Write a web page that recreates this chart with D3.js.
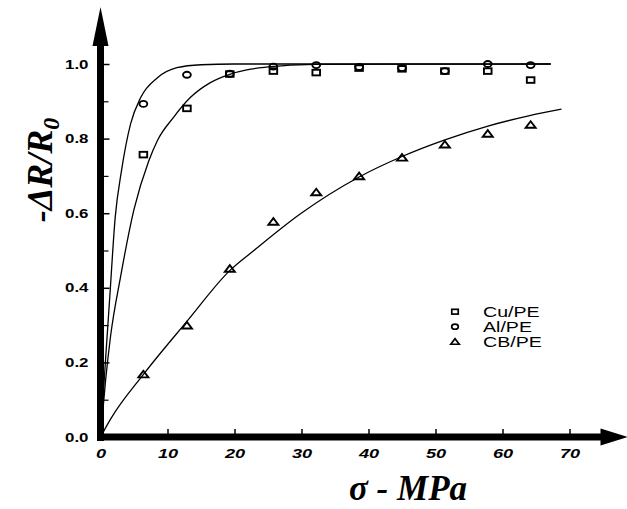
<!DOCTYPE html>
<html>
<head>
<meta charset="utf-8">
<script src="https://cdn.jsdelivr.net/npm/d3@7"></script>
<style>
  body { margin: 0; background: #fff; }
  svg { display: block; }
</style>
</head>
<body>
<div id="chart"></div>
<script>
// Measured stress values (MPa) for the three composites
const stress = [6.4, 12.9, 19.3, 25.8, 32.2, 38.6, 45.0, 51.4, 57.8, 64.2];
const cuPE = [0.757, 0.881, 0.973, 0.981, 0.977, 0.989, 0.987, 0.981, 0.981, 0.957];
const alPE = [0.893, 0.971, 0.974, 0.993, 0.997, 0.992, 0.989, 0.981, 1.0, 0.997];
const cbPE = [0.168, 0.299, 0.451, 0.577, 0.656, 0.699, 0.749, 0.784, 0.813, 0.837];

// Fitted curves
const cuFitX = [0, 0.75, 1.5, 3, 5, 7.2, 8.5, 10.9, 13.4, 16.4, 19.4, 22.4, 27, 32, 67.2];
const cuFitY = [0, 0.15, 0.27, 0.43, 0.61, 0.74, 0.795, 0.857, 0.91, 0.95, 0.973, 0.986, 0.995, 0.999, 1.0];
const alFitX = [0, 0.8, 1.4, 2.2, 3.1, 4.5, 6, 8.5, 11.4, 15, 20, 67.2];
const alFitY = [0, 0.22, 0.38, 0.59, 0.71, 0.84, 0.91, 0.963, 0.99, 0.998, 1.0, 1.0];
const cbFitX = [0, 1.5, 6.5, 12.9, 19.4, 22.9, 29.9, 38.6, 45, 51.3, 57.7, 63.9, 68.8];
const cbFitY = [0, 0.048, 0.17, 0.31, 0.448, 0.50, 0.599, 0.697, 0.752, 0.796, 0.833, 0.861, 0.879];

const xTicks = [0, 10, 20, 30, 40, 50, 60, 70];
const yTicks = [0, 0.2, 0.4, 0.6, 0.8, 1.0];
const yMinorTicks = [0.1, 0.3, 0.5, 0.7, 0.9];
const seriesNames = ["Cu/PE", "Al/PE", "CB/PE"];

const width = 627, height = 509;

const svg = d3.select("#chart")
    .append("svg")
    .attr("width", width)
    .attr("height", height);

// Scales
const x = d3.scaleLinear().domain([0, 70]).range([100.5, 569.5]);
const y = d3.scaleLinear().domain([0, 1]).range([437, 64]);

const labelFont = "'Liberation Sans', Arial, sans-serif";
const titleFont = "'Liberation Serif', 'Times New Roman', serif";

// Y axis ticks (inside, to the right) and labels
const yAxis = svg.append("g")
    .attr("transform", `translate(${x(0)},0)`)
    .call(d3.axisLeft(y).tickValues(yTicks).tickSizeInner(-9).tickSizeOuter(0)
        .tickFormat(d3.format(".1f")));
yAxis.select(".domain").remove();
yAxis.selectAll("line").attr("stroke-width", 1.5);
yAxis.selectAll("text")
    .attr("x", null)
    .attr("transform", "translate(-12,0) scale(1.3,1)")
    .style("font-family", labelFont)
    .style("font-weight", "bold")
    .style("font-size", "13px")
    .attr("fill", "#000");

svg.append("g")
    .attr("transform", `translate(${x(0)},0)`)
    .call(d3.axisLeft(y).tickValues(yMinorTicks).tickSizeInner(-8).tickSizeOuter(0).tickFormat(""))
    .call(g => g.select(".domain").remove())
    .selectAll("line").attr("stroke-width", 1.2);

// X axis ticks (upward) and labels
const xAxis = svg.append("g")
    .attr("transform", `translate(0,${y(0)})`)
    .call(d3.axisBottom(x).tickValues(xTicks).tickSizeInner(-8).tickSizeOuter(0).tickPadding(12));
xAxis.select(".domain").remove();
xAxis.selectAll("line").attr("stroke-width", 1.5);
xAxis.selectAll("text")
    .attr("transform", "scale(1.4,1)")
    .style("font-family", labelFont)
    .style("font-weight", "bold")
    .style("font-style", "italic")
    .style("font-size", "13px")
    .attr("fill", "#000");

// Thick axis lines with arrow heads
const x0 = x(0), y0 = y(0);
svg.append("line")
    .attr("x1", x0).attr("x2", x0)
    .attr("y1", y0 + 4).attr("y2", y(1) - 20)
    .attr("stroke", "#000").attr("stroke-width", 7);
svg.append("path")
    .attr("d", `M${x0 - 8},${y(1) - 18} L${x0},${y(1) - 57} L${x0 + 8},${y(1) - 18} Z`)
    .attr("fill", "#000");
svg.append("line")
    .attr("x1", x0 - 3.5).attr("x2", x(70) + 33)
    .attr("y1", y0).attr("y2", y0)
    .attr("stroke", "#000").attr("stroke-width", 7);
svg.append("path")
    .attr("d", `M${x(70) + 31},${y0 - 8.5} L${x(70) + 58},${y0} L${x(70) + 31},${y0 + 8.5} Z`)
    .attr("fill", "#000");

// Fitted curves
const line = d3.line()
    .x(d => x(d[0]))
    .y(d => y(d[1]))
    .curve(d3.curveMonotoneX);

[[cuFitX, cuFitY], [alFitX, alFitY], [cbFitX, cbFitY]].forEach(([fx, fy]) => {
    svg.append("path")
        .datum(fx.map((v, i) => [v, fy[i]]))
        .attr("d", line)
        .attr("fill", "none")
        .attr("stroke", "#000")
        .attr("stroke-width", 1.3);
});

// Markers
const drawSquare = (g, cx, cy, s) => g.append("rect")
    .attr("x", cx - 3.8 * s).attr("y", cy - 2.8 * s)
    .attr("width", 7.6 * s).attr("height", 5.6 * s);
const drawCircle = (g, cx, cy, s) => g.append("ellipse")
    .attr("cx", cx).attr("cy", cy)
    .attr("rx", 3.9 * s).attr("ry", 3.0 * s);
const drawTriangle = (g, cx, cy, s) => g.append("path")
    .attr("d", `M${cx - 5 * s},${cy + 3 * s} L${cx},${cy - 3.6 * s} L${cx + 5 * s},${cy + 3 * s} Z`);
const drawers = [drawSquare, drawCircle, drawTriangle];

const marks = svg.append("g")
    .attr("fill", "none")
    .attr("stroke", "#000")
    .attr("stroke-width", 1.9);

[cuPE, alPE, cbPE].forEach((vals, k) => {
    vals.forEach((v, i) => drawers[k](marks, x(stress[i]), y(v), 1));
});

// Legend
const legend = svg.append("g");
seriesNames.forEach((name, k) => {
    const ly = 311.7 + k * 15;
    const sym = legend.append("g")
        .attr("fill", "none")
        .attr("stroke", "#000")
        .attr("stroke-width", 1.7);
    drawers[k](sym, 455, ly, 0.85);
    legend.append("text")
        .attr("transform", `translate(483,${ly}) scale(1.4,1)`)
        .attr("dy", "0.36em")
        .style("font-family", labelFont)
        .style("font-size", "14px")
        .attr("fill", "#000")
        .text(name);
});

// Axis titles
svg.append("text")
    .attr("transform", `translate(52,170) rotate(-90)`)
    .attr("text-anchor", "middle")
    .style("font-family", titleFont)
    .style("font-weight", "bold")
    .style("font-style", "italic")
    .style("font-size", "36px")
    .call(t => {
        t.append("tspan").text("-ΔR/R");
        t.append("tspan").attr("dy", 7).style("font-size", "24px").text("0");
    });

svg.append("text")
    .attr("x", 408)
    .attr("y", 500)
    .attr("text-anchor", "middle")
    .style("font-family", titleFont)
    .style("font-weight", "bold")
    .style("font-style", "italic")
    .style("font-size", "35px")
    .text("σ - MPa");
</script>
</body>
</html>
